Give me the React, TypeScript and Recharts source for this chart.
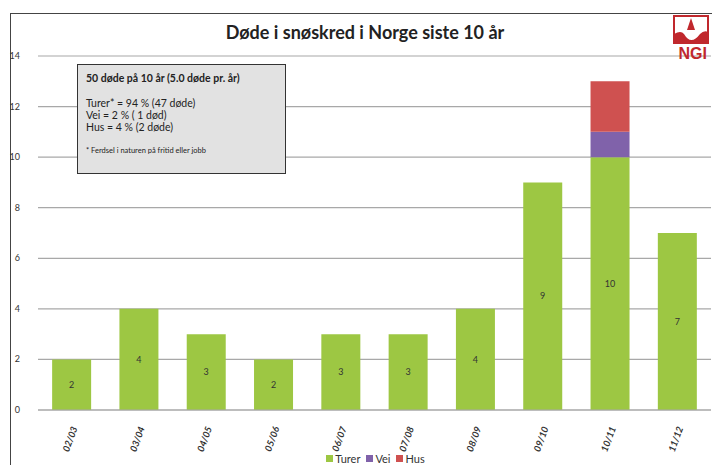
import React from 'react';
import { BarChart, Bar, XAxis, YAxis, CartesianGrid, Legend, LabelList } from 'recharts';

const seasons = ['02/03', '03/04', '04/05', '05/06', '06/07', '07/08', '08/09', '09/10', '10/11', '11/12'];
const turer = [2, 4, 3, 2, 3, 3, 4, 9, 10, 7];
const vei = [0, 0, 0, 0, 0, 0, 0, 0, 1, 0];
const hus = [0, 0, 0, 0, 0, 0, 0, 0, 2, 0];
const yTicks = [0, 2, 4, 6, 8, 10, 12, 14];

const data = seasons.map((s, i) => ({ season: s, turer: turer[i], vei: vei[i], hus: hus[i] }));

const FONT = 'Lato, "Open Sans", sans-serif';
const GREEN = '#9dc743';
const PURPLE = '#8062aa';
const RED = '#cf5150';

const YTick = (props: any) => {
  const { x, y, payload } = props;
  return (
    <text x={x - 10} y={y} dy={3} textAnchor="end" fontSize={9} fill="#333" fontFamily={FONT}>
      {payload.value}
    </text>
  );
};

const XTick = (props: any) => {
  const { x, y, payload } = props;
  return (
    <g transform={`translate(${x + 6},${y + 10})`}>
      <text textAnchor="end" transform="rotate(-70)" fontSize={9.5} fontStyle="italic" fontWeight={700} fill="#333" fontFamily={FONT}>
        {payload.value}
      </text>
    </g>
  );
};

const LegendContent = () => {
  const items = [
    { label: 'Turer', color: GREEN },
    { label: 'Vei', color: PURPLE },
    { label: 'Hus', color: RED },
  ];
  return (
    <div style={{ display: 'flex', justifyContent: 'center', gap: 6, fontFamily: FONT, fontSize: 11, color: '#333', paddingLeft: 40 }}>
      {items.map((it) => (
        <div key={it.label} style={{ display: 'flex', alignItems: 'center', gap: 2 }}>
          <span style={{ width: 7, height: 7, background: it.color, display: 'inline-block' }} />
          <span>{it.label}</span>
        </div>
      ))}
    </div>
  );
};

export default function App() {
  return (
    <div style={{ position: 'absolute', left: 0, top: 0, width: 712, height: 465, overflow: 'hidden', background: '#fff', fontFamily: FONT }}>
      <div style={{ position: 'absolute', left: 10, top: 13, width: 720, height: 470, borderLeft: '1.5px solid #444', borderTop: '1.5px solid #444' }} />
      <div style={{ position: 'absolute', left: 0, width: 730, top: 21, textAlign: 'center', fontSize: 18, fontWeight: 700, color: '#222' }}>
        Døde i snøskred i Norge siste 10 år
      </div>
      <BarChart width={712} height={465} data={data} margin={{ top: 56, right: 1, left: 0, bottom: 0 }} barCategoryGap="21%">
        <CartesianGrid vertical={false} stroke="#a8a8a8" strokeWidth={1.2} />
        <XAxis dataKey="season" tick={<XTick />} tickLine={false} axisLine={{ stroke: '#a8a8a8', strokeWidth: 1.2 }} height={42} interval={0} />
        <YAxis domain={[0, 14]} ticks={yTicks} tick={<YTick />} tickLine={false} axisLine={false} width={38} />
        <Legend verticalAlign="bottom" height={13} content={<LegendContent />} />
        <Bar dataKey="turer" name="Turer" stackId="a" fill={GREEN} isAnimationActive={false}>
          <LabelList dataKey="turer" position="center" fontSize={9} fill="#333" fontFamily={FONT} />
        </Bar>
        <Bar dataKey="vei" name="Vei" stackId="a" fill={PURPLE} isAnimationActive={false} />
        <Bar dataKey="hus" name="Hus" stackId="a" fill={RED} isAnimationActive={false} />
      </BarChart>
      <div style={{ position: 'absolute', left: 77, top: 64, width: 209, height: 110, background: '#e2e2e2', border: '1.5px solid #333', boxSizing: 'border-box', padding: '7px 8px', color: '#222', fontSize: 10.5, lineHeight: '12px' }}>
        <div style={{ fontWeight: 700, fontSize: 10.5 }}>50 døde på 10 år (5.0 døde pr. år)</div>
        <div style={{ marginTop: 13 }}>Turer* = 94 % (47 døde)</div>
        <div>Vei = 2 % ( 1 død)</div>
        <div>Hus = 4 % (2 døde)</div>
        <div style={{ marginTop: 12, fontSize: 7.5 }}>* Ferdsel i naturen på fritid eller jobb</div>
      </div>
      <svg style={{ position: 'absolute', left: 668, top: 14, overflow: 'visible' }} width={42} height={52}>
        <rect x={6} y={2} width={34} height={27} fill="none" stroke="#c0282d" strokeWidth={2} />
        <path d="M6 20 Q13 16 16 20 Q23 32 32 20 Q36 16 40 18 L40 29 L6 29 Z" fill="#c0282d" />
        <path d="M23 4 L19 16 L27 16 Z" fill="#c0282d" />
        <text x={39} y={45} textAnchor="end" fontSize={16} fontWeight={900} fill="#c0282d" fontFamily="'Liberation Sans', Arial, sans-serif">NGI</text>
      </svg>
    </div>
  );
}
